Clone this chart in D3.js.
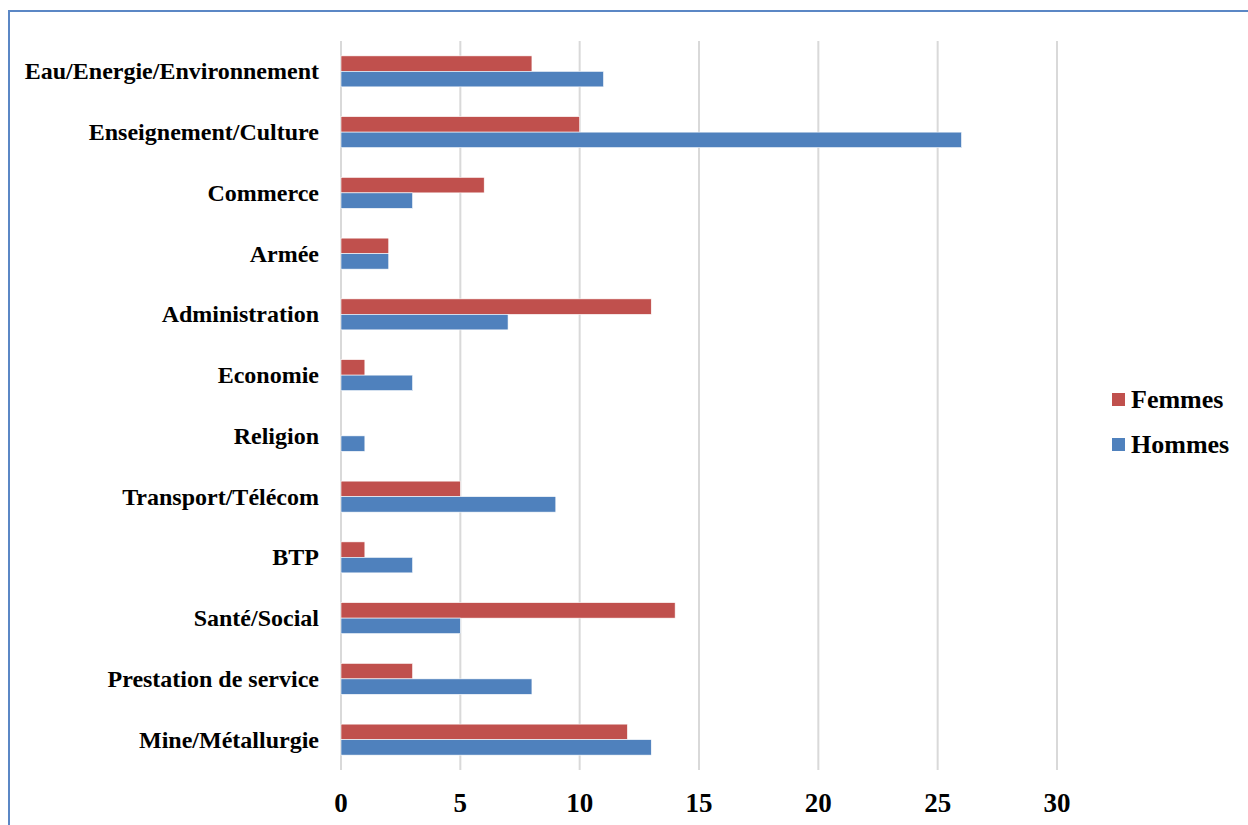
<!DOCTYPE html>
<html>
<head>
<meta charset="utf-8">
<script src="https://cdn.jsdelivr.net/npm/d3@7"></script>
<style>
  body { margin: 0; background: #fff; }
  svg text { font-family: "Liberation Serif", "Times New Roman", serif; font-weight: bold; fill: #000; }
</style>
</head>
<body>
<div id="chart-area"></div>
<script>
// data
const categories = ["Eau/Energie/Environnement", "Enseignement/Culture", "Commerce", "Armée", "Administration",
  "Economie", "Religion", "Transport/Télécom", "BTP", "Santé/Social", "Prestation de service", "Mine/Métallurgie"]
const femmes = [8, 10, 6, 2, 13, 1, 0, 5, 1, 14, 3, 12]
const hommes = [11, 26, 3, 2, 7, 3, 1, 9, 3, 5, 8, 13]
const seriesNames = ["Femmes", "Hommes"]
const seriesColors = ["#C0504D", "#4F81BD"]
const xTicks = [0, 5, 10, 15, 20, 25, 30]

const width = 1248, height = 825
const svg = d3.select("#chart-area").append("svg").attr("width", width).attr("height", height)

// outer frame
svg.append("rect")
  .attr("x", 9).attr("y", 11)
  .attr("width", width + 10).attr("height", height + 10)
  .attr("fill", "none").attr("stroke", "#5B87C5").attr("stroke-width", 2)

const x = d3.scaleLinear().domain([0, 30]).range([341, 1057])
const y = d3.scaleBand().domain(categories).range([41, 770]).paddingInner(0).paddingOuter(0)
const inner = d3.scaleBand().domain(seriesNames).range([0, y.bandwidth()]).paddingOuter(0.96).paddingInner(0)

// gridlines
svg.append("g").selectAll("line").data(xTicks).enter()
  .append("line")
  .attr("x1", d => x(d)).attr("x2", d => x(d))
  .attr("y1", 41).attr("y2", 770)
  .attr("stroke", "#D9D9D9").attr("stroke-width", 2)

// tick labels
svg.append("g").selectAll("text").data(xTicks).enter()
  .append("text")
  .attr("x", d => x(d)).attr("y", 812)
  .attr("text-anchor", "middle")
  .style("font-size", "27px")
  .text(d => d)

// category labels
svg.append("g").selectAll("text").data(categories).enter()
  .append("text")
  .attr("x", 319)
  .attr("y", d => y(d) + y.bandwidth() / 2 + 8)
  .attr("text-anchor", "end")
  .style("font-size", "24px")
  .text(d => d)

// bars
const rows = categories.map((c, i) => ({ cat: c, vals: [femmes[i], hommes[i]] }))
const groups = svg.append("g").selectAll("g").data(rows).enter()
  .append("g")
  .attr("transform", d => `translate(0,${y(d.cat)})`)

groups.selectAll("rect")
  .data(d => d.vals.map((v, j) => ({ name: seriesNames[j], v: v, color: seriesColors[j] })))
  .enter()
  .append("rect")
  .attr("x", x(0))
  .attr("y", d => inner(d.name))
  .attr("width", d => x(d.v) - x(0))
  .attr("height", inner.bandwidth())
  .attr("fill", d => d.color)
  .attr("stroke", "#fff").attr("stroke-width", 0.6)

// legend
const legend = svg.append("g").selectAll("g").data(seriesNames).enter()
  .append("g")
  .attr("transform", (d, i) => `translate(1112,${393 + i * 45})`)

legend.append("rect")
  .attr("width", 13).attr("height", 13)
  .attr("fill", (d, i) => seriesColors[i])

legend.append("text")
  .attr("x", 19).attr("y", 15)
  .style("font-size", "26px")
  .text(d => d)
</script>
</body>
</html>
